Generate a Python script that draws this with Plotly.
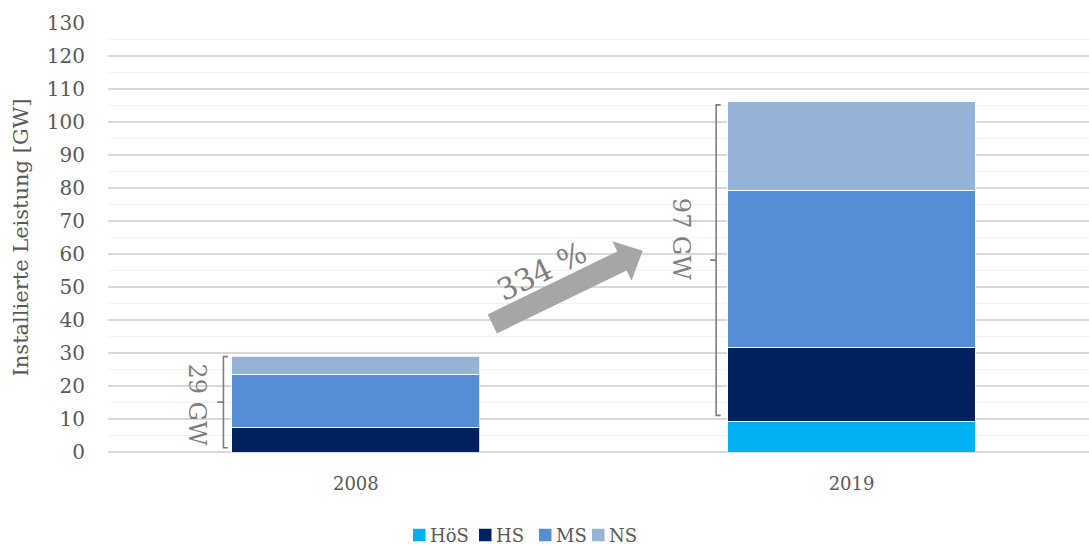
import math
import plotly.graph_objects as go

# Installed capacity by voltage level (GW)
years = ["2008", "2019"]
levels = ["HöS", "HS", "MS", "NS"]
hoes = [0.0, 9.3]
hs = [7.5, 22.5]
ms = [16.1, 47.5]
ns = [5.4, 26.8]
y_ticks = list(range(0, 131, 10))

colors = {"HöS": "#00b0f0", "HS": "#002060", "MS": "#558ed5", "NS": "#95b3d7"}
series = {"HöS": hoes, "HS": hs, "MS": ms, "NS": ns}

FONT = "DejaVu Serif"
TXT = "#595959"
GREY = "#7f7f7f"

# layout geometry (pixels)
W, H = 1089, 545
ML, MR, MT, MB = 108, 0, 23, 93
PW, PH = W - ML - MR, H - MT - MB
X_RANGE = [-0.5, 1.479]
Y_RANGE = [0, 130]
px_x = PW / (X_RANGE[1] - X_RANGE[0])
px_y = PH / (Y_RANGE[1] - Y_RANGE[0])


def paper_x(px):
    return (px - ML) / PW


def paper_y(py):
    return (H - MB - py) / PH


fig = go.Figure()
for lv in levels:
    fig.add_trace(go.Bar(
        x=years, y=series[lv], name=lv, showlegend=False,
        marker=dict(color=colors[lv], line=dict(color="white", width=0.8)),
        width=0.5,
    ))

# totals above the lowest level, used for the bracket labels and growth rate
upper = [hs[i] + ms[i] + ns[i] for i in range(2)]
base = [hoes[i] for i in range(2)]
tops = [base[i] + upper[i] for i in range(2)]
growth = round(upper[1] / round(upper[0]) * 100)

shapes = []
annotations = []


def bracket(xc, y0, y1, gap_px, label, text_dx_px, text_py):
    xb = xc - 0.25 - gap_px / px_x
    hook = 4.5 / px_x
    tick = 6 / px_x
    ym = (y0 + y1) / 2
    path = (f"M {xb + hook},{y1} L {xb},{y1} L {xb},{y0} L {xb + hook},{y0} "
            f"M {xb},{ym} L {xb - tick},{ym}")
    shapes.append(dict(type="path", xref="x", yref="y", path=path,
                       line=dict(color=GREY, width=1.6)))
    annotations.append(dict(
        x=xb, y=(H - MB - text_py) / px_y, xref="x", yref="y", text=label,
        showarrow=False, textangle=90, xshift=-text_dx_px,
        font=dict(family=FONT, size=24, color=GREY),
    ))


bracket(0, base[0] + 1.3, tops[0] - 0.1, 8.5, f"{round(upper[0])} GW", 26, 405)
bracket(1, base[1] + 1.8, tops[1] - 0.9, 11.5, f"{round(upper[1])} GW", 35, 239)

# growth arrow between the two bars (built in pixel space, stored in data units)
tail = (0.2753, 38.8)
tip = (0.5785, 60.95)
tx, ty = tail[0] * px_x, tail[1] * px_y
hx, hy = tip[0] * px_x, tip[1] * px_y
L = math.hypot(hx - tx, hy - ty)
ux, uy = (hx - tx) / L, (hy - ty) / L
nx, ny = -uy, ux
shaft_hw, head_hw, head_len = 10.6, 22.0, 23.0
bx, by = hx - ux * head_len, hy - uy * head_len
pts = [
    (tx + nx * shaft_hw, ty + ny * shaft_hw),
    (bx + nx * shaft_hw, by + ny * shaft_hw),
    (bx + nx * head_hw, by + ny * head_hw),
    (hx, hy),
    (bx - nx * head_hw, by - ny * head_hw),
    (bx - nx * shaft_hw, by - ny * shaft_hw),
    (tx - nx * shaft_hw, ty - ny * shaft_hw),
]
path = "M " + " L ".join(f"{px / px_x},{py / px_y}" for px, py in pts) + " Z"
shapes.append(dict(type="path", xref="x", yref="y", path=path,
                   fillcolor="#a6a6a6", line=dict(width=0), layer="above"))

ang = math.degrees(math.atan2(hy - ty, hx - tx))
annotations.append(dict(
    x=(541 - ML) / px_x + X_RANGE[0], y=(H - MB - 271) / px_y, xref="x", yref="y",
    text=f"{growth} %", showarrow=False, textangle=-ang,
    font=dict(family=FONT, size=30, color=GREY),
))

# legend row: colour square followed by the level name
legend_px = [413, 479, 539, 592]
legend_cy = 535
sq = 12.5
for lv, lx in zip(levels, legend_px):
    shapes.append(dict(type="rect", xref="paper", yref="paper",
                       x0=paper_x(lx), x1=paper_x(lx + sq),
                       y0=paper_y(legend_cy + sq / 2), y1=paper_y(legend_cy - sq / 2),
                       fillcolor=colors[lv], line=dict(width=0)))
    annotations.append(dict(
        x=paper_x(lx + sq + 2.5), y=paper_y(legend_cy), xref="paper", yref="paper",
        xanchor="left", yanchor="middle", text=lv, showarrow=False,
        font=dict(family=FONT, size=18, color=TXT),
    ))

fig.update_layout(
    width=W, height=H,
    margin=dict(l=ML, r=MR, t=MT, b=MB, autoexpand=False),
    paper_bgcolor="white", plot_bgcolor="white",
    barmode="stack", bargap=0.5,
    font=dict(family=FONT, color=TXT),
    shapes=shapes, annotations=annotations,
    showlegend=False,
    xaxis=dict(range=X_RANGE, showgrid=False, ticks="", showline=False,
               automargin=False,
               tickfont=dict(family=FONT, size=18, color=TXT),
               ticklabelstandoff=19),
    yaxis=dict(range=Y_RANGE, tickvals=y_ticks, showline=False, automargin=False,
               gridcolor="#d9d9d9", gridwidth=1.6,
               zeroline=True, zerolinecolor="#d9d9d9", zerolinewidth=1.6,
               minor=dict(dtick=5, showgrid=True, gridcolor="#f2f2f2", gridwidth=1),
               tickfont=dict(family=FONT, size=20, color=TXT),
               ticklabelstandoff=22,
               title=dict(text="Installierte Leistung [GW]", standoff=12,
                          font=dict(family=FONT, size=21, color=TXT))),
)

fig.write_html("out.html")
